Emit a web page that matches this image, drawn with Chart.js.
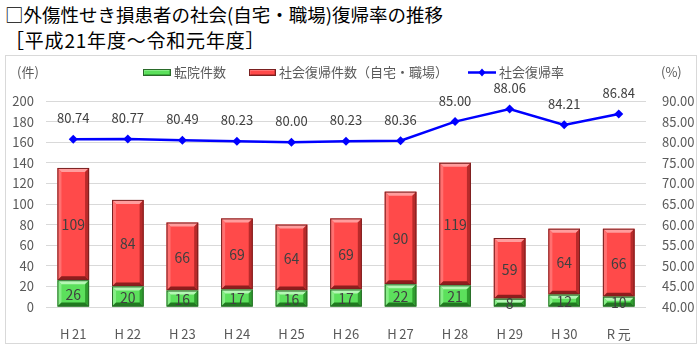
<!DOCTYPE html>
<html lang="ja">
<head>
<meta charset="utf-8">
<script src="https://cdn.jsdelivr.net/npm/chart.js@4/dist/chart.umd.min.js"></script>
<style>
  html, body { margin: 0; padding: 0; background: #fff; width: 700px; height: 346px; overflow: hidden; }
  .title { position: absolute; left: 5px; font-family: "Noto Sans CJK JP", sans-serif; color: #000; white-space: nowrap; line-height: 1; }
  #t1 { top: 5px; font-size: 18.5px; }
  #t2 { top: 30px; font-size: 19px; letter-spacing: 0.8px; }
  #frame { position: absolute; left: 5px; top: 55px; width: 692px; height: 289px; box-sizing: border-box; border: 1px solid #d9d9d9; }
  #wrap { position: absolute; left: 6px; top: 56px; width: 690px; height: 287px; }
</style>
</head>
<body>
<div class="title" id="t1">□外傷性せき損患者の社会(自宅・職場)復帰率の推移</div>
<div class="title" id="t2">［平成21年度～令和元年度］</div>
<div id="frame"></div>
<div id="wrap"><canvas id="c" width="690" height="287"></canvas></div>
<script>
// Fiscal years
const categories = ['H\u200921', 'H\u200922', 'H\u200923', 'H\u200924', 'H\u200925', 'H\u200926', 'H\u200927', 'H\u200928', 'H\u200929', 'H\u200930', 'R\u2009元'];
// 転院件数
const transferCounts = [26, 20, 16, 17, 16, 17, 22, 21, 8, 12, 10];
// 社会復帰件数（自宅・職場）
const returnCounts = [109, 84, 66, 69, 64, 69, 90, 119, 59, 64, 66];
// 社会復帰率 (%)
const returnRates = [80.74, 80.77, 80.49, 80.23, 80.00, 80.23, 80.36, 85.00, 88.06, 84.21, 86.84];
// Axis ranges
const countTicks = { min: 0, max: 200, step: 20 };
const rateTicks = { min: 40, max: 90, step: 5 };

const FONT = '"Noto Sans CJK JP", sans-serif';
const TEXT = '#595959';

const palettes = {
  green: { face: '#5ce05c', top: '#b4f7b4', left: '#86ee86', right: '#2f9e2f', bottom: '#1f7a1f', edge: '#2a6a2a' },
  red:   { face: '#ff4a4a', top: '#ff9d9d', left: '#ff7070', right: '#b82a2a', bottom: '#8e1d1d', edge: '#7a2020' }
};

function poly(ctx, pts, color) {
  ctx.beginPath();
  ctx.moveTo(pts[0], pts[1]);
  for (let i = 2; i < pts.length; i += 2) ctx.lineTo(pts[i], pts[i + 1]);
  ctx.closePath();
  ctx.fillStyle = color;
  ctx.fill();
}

function drawBevel(ctx, l, t, r, b, pal, size) {
  const w = Math.min(size, (r - l) / 2, (b - t) / 2);
  ctx.save();
  poly(ctx, [l, t, r, t, r - w, t + w, l + w, t + w], pal.top);
  poly(ctx, [l, t, l + w, t + w, l + w, b - w, l, b], pal.left);
  poly(ctx, [r, t, r, b, r - w, b - w, r - w, t + w], pal.right);
  poly(ctx, [l, b, r, b, r - w, b - w, l + w, b - w], pal.bottom);
  ctx.strokeStyle = pal.edge;
  ctx.lineWidth = 1;
  ctx.strokeRect(l + 0.5, t + 0.5, r - l - 1, b - t - 1);
  ctx.restore();
}

// Bevelled bar faces, drawn right after each bar dataset
const bevelPlugin = {
  id: 'bevel',
  afterDatasetDraw(chart, args) {
    const ds = chart.data.datasets[args.index];
    if (ds.type !== 'bar') return;
    const ctx = chart.ctx;
    args.meta.data.forEach(el => {
      const p = el.getProps(['x', 'y', 'base', 'width'], true);
      const l = p.x - p.width / 2, r = p.x + p.width / 2;
      const t = Math.min(p.y, p.base), b = Math.max(p.y, p.base);
      drawBevel(ctx, l, t, r, b, palettes[ds.paletteKey], 4);
    });
  }
};

// Value labels on bars and above line points
const valueLabelPlugin = {
  id: 'valueLabels',
  afterDatasetsDraw(chart) {
    const ctx = chart.ctx;
    ctx.save();
    ctx.textAlign = 'center';
    ctx.textBaseline = 'middle';
    chart.data.datasets.forEach((ds, i) => {
      const meta = chart.getDatasetMeta(i);
      meta.data.forEach((el, j) => {
        const v = ds.data[j];
        if (ds.type === 'bar') {
          const p = el.getProps(['x', 'y', 'base'], true);
          ctx.font = '14px ' + FONT;
          ctx.fillStyle = '#404040';
          ctx.fillText(String(v), p.x, (p.y + p.base) / 2 + 1);
        } else {
          const p = el.getProps(['x', 'y'], true);
          ctx.font = '13px ' + FONT;
          ctx.fillStyle = '#404040';
          ctx.fillText(v.toFixed(2), p.x, p.y - 21);
        }
      });
    });
    ctx.restore();
  }
};

// Legend row and axis unit captions
const legendPlugin = {
  id: 'customLegend',
  afterDraw(chart) {
    const ctx = chart.ctx;
    const y = 16;
    ctx.save();
    ctx.font = '13px ' + FONT;
    ctx.fillStyle = TEXT;
    ctx.textBaseline = 'middle';
    ctx.textAlign = 'left';
    ctx.fillText('(件)', 11, y);
    ctx.fillText('(%)', 655, y);

    const ds = chart.data.datasets;
    // green
    ctx.fillStyle = palettes.green.face;
    ctx.fillRect(137, y - 3, 28, 7);
    drawBevel(ctx, 137, y - 3, 165, y + 4, palettes.green, 1.5);
    ctx.fillStyle = TEXT;
    ctx.fillText(ds[0].label, 168, y);
    // red
    ctx.fillStyle = palettes.red.face;
    ctx.fillRect(243, y - 3, 27, 7);
    drawBevel(ctx, 243, y - 3, 270, y + 4, palettes.red, 1.5);
    ctx.fillStyle = TEXT;
    ctx.fillText(ds[1].label, 273, y);
    // line
    ctx.strokeStyle = '#0000ff';
    ctx.lineWidth = 2.5;
    ctx.beginPath();
    ctx.moveTo(462, y + 0.5);
    ctx.lineTo(490, y + 0.5);
    ctx.stroke();
    poly(ctx, [476, y - 3.5, 479.5, y + 0.5, 476, y + 4.5, 472.5, y + 0.5], '#0000ff');
    ctx.fillStyle = TEXT;
    ctx.fillText(ds[2].label, 493, y);
    ctx.restore();
  }
};

new Chart(document.getElementById('c'), {
  data: {
    labels: categories,
    datasets: [
      {
        type: 'bar', label: '転院件数', data: transferCounts, paletteKey: 'green',
        backgroundColor: palettes.green.face, borderWidth: 0, yAxisID: 'y', stack: 's', order: 1,
        barPercentage: 0.58, categoryPercentage: 1
      },
      {
        type: 'bar', label: '社会復帰件数（自宅・職場）', data: returnCounts, paletteKey: 'red',
        backgroundColor: palettes.red.face, borderWidth: 0, yAxisID: 'y', stack: 's', order: 1,
        barPercentage: 0.58, categoryPercentage: 1
      },
      {
        type: 'line', label: '社会復帰率', data: returnRates, yAxisID: 'y1', order: 0,
        borderColor: '#0000ff', borderWidth: 2.5, backgroundColor: '#0000ff',
        pointStyle: 'rectRot', pointRadius: 4.5, pointBorderWidth: 0, tension: 0
      }
    ]
  },
  options: {
    responsive: false,
    animation: false,
    events: [],
    layout: { padding: { top: 45, left: 0, right: 0, bottom: 0 } },
    plugins: { legend: { display: false }, tooltip: { enabled: false }, title: { display: false } },
    scales: {
      x: {
        stacked: true,
        grid: { display: false },
        border: { display: false },
        ticks: { color: TEXT, font: { family: FONT, size: 13 }, padding: 11 },
        afterFit(s) { s.height = 36; }
      },
      y: {
        stacked: true,
        position: 'left',
        min: countTicks.min, max: countTicks.max,
        grid: { color: '#d9d9d9', drawTicks: false },
        border: { display: false },
        ticks: { stepSize: countTicks.step, color: TEXT, font: { family: FONT, size: 13 }, padding: 12 },
        afterFit(s) { s.width = 40; }
      },
      y1: {
        position: 'right',
        min: rateTicks.min, max: rateTicks.max,
        grid: { drawOnChartArea: false, drawTicks: false },
        border: { display: false },
        ticks: { stepSize: rateTicks.step, color: TEXT, font: { family: FONT, size: 13 }, padding: 16,
                 callback: v => Number(v).toFixed(2) },
        afterFit(s) { s.width = 50; }
      }
    }
  },
  plugins: [bevelPlugin, valueLabelPlugin, legendPlugin]
});
</script>
</body>
</html>
